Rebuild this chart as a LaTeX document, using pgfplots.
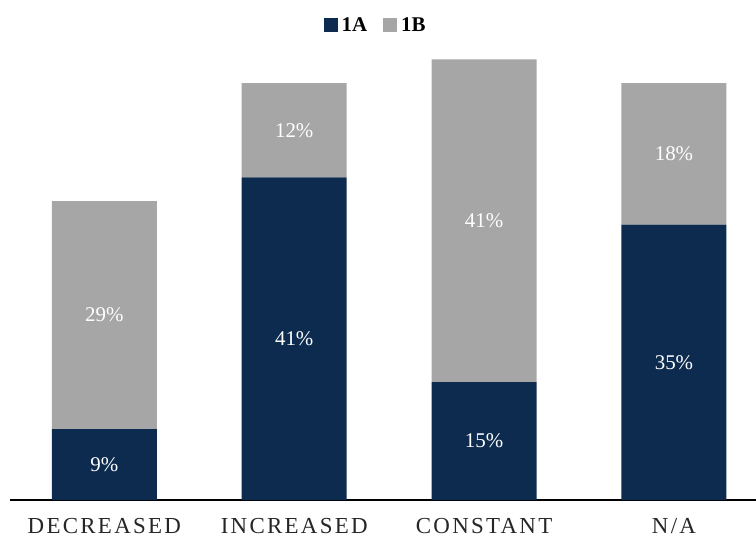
\documentclass[border=0pt]{standalone}
\usepackage{fontspec}
\setmainfont{Liberation Serif}
\newfontfamily\tracked[LetterSpace=10]{Liberation Serif}
\usepackage{pgfplots}
\pgfplotsset{compat=1.18}
\definecolor{navy}{HTML}{0C2B4F}
\definecolor{midgray}{HTML}{A6A6A6}

\begin{document}
\begin{tikzpicture}
\begin{axis}[
  at={(0bp,0bp)}, anchor=south west,
  scale only axis, width=746bp, height=472bp,
  ybar stacked, bar width=0.553,
  xmin=-0.497, xmax=3.432, ymin=0, ymax=60,
  axis x line=bottom, axis y line=none,
  axis line style={-, black, line width=1.3bp},
  xtick={0,1,2,3}, xticklabels={DECREASED,INCREASED,CONSTANT,N/A},
  major tick length=0pt, ytick=\empty,
  xticklabel style={font=\tracked\fontsize{23}{27}\selectfont, text=black!85,
    anchor=base, yshift=-33bp},
  /pgf/number format/assume math mode=true,
  nodes near coords={\pgfmathprintnumber{\pgfplotspointmeta}\%},
  every node near coord/.append style={anchor=center, text=white,
    font=\fontsize{21}{25}\selectfont},
  legend columns=2,
  legend style={draw=none, fill=none, at={(0.49,1.0064)}, anchor=center,
    font=\bfseries\fontsize{21}{24}\selectfont,
    /tikz/every odd column/.append style={column sep=2bp},
    /tikz/every even column/.append style={column sep=14bp}},
  legend image code/.code={\fill[#1] (0bp,-7bp) rectangle (14bp,7bp);},
]
\addplot[fill=navy, draw=none] coordinates {(0,9) (1,41) (2,15) (3,35)};
\addplot[fill=midgray, draw=none] coordinates {(0,29) (1,12) (2,41) (3,18)};
\legend{1A,1B}
\end{axis}
\pgfresetboundingbox
\path[use as bounding box] (-10bp,-37bp) rectangle (746bp,500bp);
\end{tikzpicture}
\end{document}
